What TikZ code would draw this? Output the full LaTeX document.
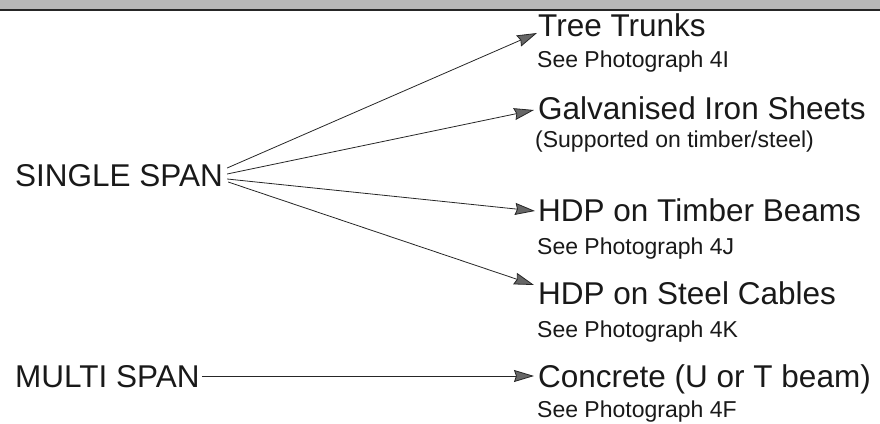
\documentclass[tikz,border=0pt]{standalone}
\usepackage{fontspec}
\setmainfont{Liberation Sans}
\usetikzlibrary{arrows.meta}
\begin{document}
\begin{tikzpicture}[x=1pt,y=1pt,
  big/.style={inner sep=0pt,anchor=base west,font=\fontsize{31.5}{36}\selectfont,text=black!90},
  small/.style={inner sep=0pt,anchor=base west,font=\fontsize{23}{27}\selectfont,text=black!90},
  conn/.style={line width=0.8pt,draw=black!85,-{Stealth[length=20pt,width=12pt,inset=2pt,fill=black!60,line width=0.8pt]}}]
\useasboundingbox (0,0) rectangle (880,423);
% scanned top band
\fill[black!28] (0,414) rectangle (880,423);
\draw[line width=1.3pt,black!85] (0,413) -- (880,413);
% left labels
\node[big] (ss) at (15,236) {SINGLE SPAN};
\node[big] (ms) at (15,36) {MULTI SPAN};
% right labels
\node[big] (tt) at (538,386) {Tree Trunks};
\node[small] (s1) at (537,355) {See Photograph 4I};
\node[big] (gi) at (538,303) {Galvanised Iron Sheets};
\node[small] (s2) at (535,275) {(Supported on timber/steel)};
\node[big] (ht) at (538,201) {HDP on Timber Beams};
\node[small] (s3) at (537,168) {See Photograph 4J};
\node[big] (hs) at (538,118) {HDP on Steel Cables};
\node[small] (s4) at (537,85) {See Photograph 4K};
\node[big] (co) at (538,36) {Concrete (U or T beam)};
\node[small] (s5) at (537,6) {See Photograph 4F};
% connectors
\draw[conn] ([shift={(4,19)}]ss.base east) -- ([shift={(-1,4)}]tt.base west);
\draw[conn] ([shift={(4,13)}]ss.base east) -- ([shift={(-4,10)}]gi.base west);
\draw[conn] ([shift={(4,8)}]ss.base east) -- ([shift={(-3,11)}]ht.base west);
\draw[conn] ([shift={(5,5)}]ss.base east) -- ([shift={(-4,20)}]hs.base west);
\draw[conn] ([shift={(2,11)}]ms.base east) -- ([shift={(-4,11)}]co.base west);
\end{tikzpicture}
\end{document}
